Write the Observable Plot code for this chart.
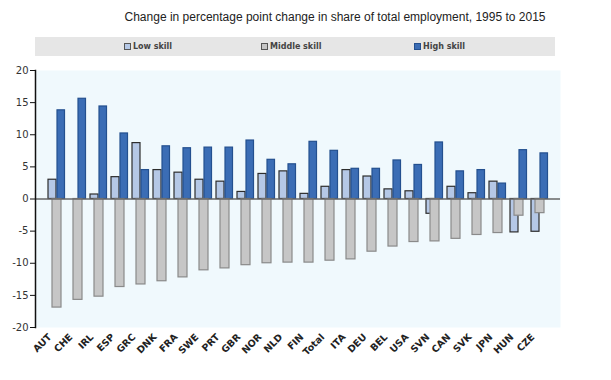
<!DOCTYPE html>
<html>
<head>
<meta charset="utf-8">
<script src="https://cdn.jsdelivr.net/npm/d3@7"></script>
<script src="https://cdn.jsdelivr.net/npm/@observablehq/plot@0.6"></script>
<style>
  html, body { margin: 0; padding: 0; background: #fff; }
  #wrap { position: relative; width: 611px; height: 380px; overflow: hidden; }
  #title { position: absolute; left: 0; width: 670px; top: 10px; text-align: center;
           font-family: "Liberation Sans", Arial, sans-serif; font-size: 12px; color: #222; }
  #legend { position: absolute; left: 35px; top: 37px; width: 520px; height: 19px; background: #e6e6e6; }
  .item { position: absolute; top: 4px; font-family: "DejaVu Sans", sans-serif; font-size: 8px;
          font-weight: bold; color: #444; white-space: nowrap; line-height: 11px; }
  .sw { display: inline-block; width: 5px; height: 5px; border: 1px solid #555; margin-right: 2px; vertical-align: -0.5px; }
  #chart { position: absolute; left: 0; top: 0; }
</style>
</head>
<body>
<div id="wrap">
  <div id="chart"></div>
  <div id="title">Change in percentage point change in share of total employment, 1995 to 2015</div>
  <div id="legend"></div>
</div>
<script>
const countries = ["AUT","CHE","IRL","ESP","GRC","DNK","FRA","SWE","PRT","GBR","NOR","NLD","FIN","Total","ITA","DEU","BEL","USA","SVN","CAN","SVK","JPN","HUN","CZE"];
const lowSkill = [3.0, 0.0, 0.7, 3.4, 8.7, 4.5, 4.1, 3.0, 2.7, 1.1, 3.9, 4.3, 0.8, 1.9, 4.5, 3.5, 1.5, 1.2, -2.3, 1.9, 0.9, 2.7, -5.2, -5.1];
const middleSkill = [-16.9, -15.7, -15.2, -13.7, -13.3, -12.8, -12.2, -11.1, -10.8, -10.3, -10.0, -9.9, -9.9, -9.6, -9.4, -8.2, -7.4, -6.7, -6.6, -6.2, -5.6, -5.3, -2.6, -2.2];
const highSkill = [13.8, 15.6, 14.4, 10.2, 4.5, 8.2, 7.9, 8.0, 8.0, 9.1, 6.1, 5.4, 8.9, 7.5, 4.7, 4.7, 6.0, 5.3, 8.8, 4.3, 4.5, 2.4, 7.6, 7.1];
const yTicks = [-20, -15, -10, -5, 0, 5, 10, 15, 20];
const seriesNames = ["Low skill", "Middle skill", "High skill"];
const seriesFill = ["#b5c8e6", "#c6c6c6", "#3b6db5"];
const seriesStroke = ["#2d2d2d", "#8a8a8a", "#24508f"];

const rows = countries.map((c, i) => ({country: c, low: lowSkill[i], mid: middleSkill[i], high: highSkill[i]}));

const plot = Plot.plot({
  width: 611,
  height: 380,
  marginLeft: 35,
  marginRight: 51,
  marginTop: 70,
  marginBottom: 53,
  style: {fontFamily: "DejaVu Sans, sans-serif", background: "transparent", overflow: "visible"},
  x: {type: "band", domain: countries, padding: 0},
  y: {domain: [-20, 20]},
  marks: [
    Plot.frame({fill: "#f0f9fd", stroke: "none"}),
    Plot.barY(rows, {x: "country", y: "low", fill: seriesFill[0], stroke: seriesStroke[0], strokeWidth: 1.2, insetLeft: 2, insetRight: 11}),
    Plot.barY(rows, {x: "country", y: "high", fill: seriesFill[2], stroke: seriesStroke[2], strokeWidth: 1.2, insetLeft: 11, insetRight: 2.5}),
    Plot.barY(rows, {x: "country", y: "mid", fill: seriesFill[1], stroke: seriesStroke[1], strokeWidth: 1.2, insetLeft: 6, insetRight: 6}),
    Plot.ruleY([0], {stroke: "#666", strokeWidth: 1.5}),
    Plot.frame({anchor: "left", stroke: "#111", strokeWidth: 1.5}),
    Plot.axisY({ticks: yTicks, tickSize: 5, tickPadding: 2, fontSize: 10, fill: "#333", stroke: "#111", tickFormat: d => String(d), label: null}),
    Plot.axisX({tickRotate: -45, tickSize: 0, tickPadding: 5, dx: -7, dy: 3, fontSize: 9.5, fontWeight: "bold", fill: "#222", label: null})
  ]
});
document.getElementById("chart").appendChild(plot);

const legendX = [89, 226, 379];
const legend = document.getElementById("legend");
seriesNames.forEach((name, i) => {
  const d = document.createElement("div");
  d.className = "item";
  d.style.left = legendX[i] + "px";
  d.innerHTML = `<span class="sw" style="background:${seriesFill[i]};border-color:${i === 2 ? seriesStroke[2] : "#555"}"></span>${name}`;
  legend.appendChild(d);
});
</script>
</body>
</html>
